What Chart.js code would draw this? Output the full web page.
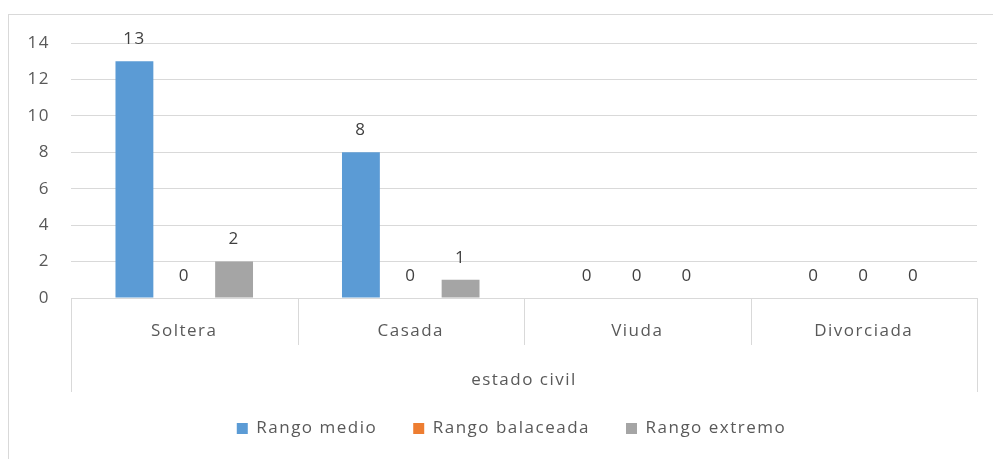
<html>
<head>
  <title>estado civil</title>
  <script src="https://cdn.jsdelivr.net/npm/chart.js@4/dist/chart.umd.min.js"></script>
  <style>
    html, body { margin: 0; padding: 0; background: #fff; overflow: hidden; }
    #wrap { position: relative; width: 993px; height: 459px; }
  </style>
</head>
<body>
  <div id="wrap"><canvas id="graph-canvas"></canvas></div>
  <script>
    // datos
    const categorias = ['Soltera', 'Casada', 'Viuda', 'Divorciada'];
    const tituloEje = 'estado civil';
    const rangoMedio = [13, 8, 0, 0];
    const rangoBalaceada = [0, 0, 0, 0];
    const rangoExtremo = [2, 1, 0, 0];
    const yMax = 14;
    const yPaso = 2;

    const gris = '#D9D9D9';
    const texto = '#595959';
    const fuente = "'Open Sans', sans-serif";

    // espaciado de letras parecido al original
    const espaciado = {
      id: 'espaciado',
      beforeUpdate(chart) { chart.ctx.letterSpacing = '1.5px'; },
      beforeDraw(chart) { chart.ctx.letterSpacing = '1.5px'; }
    };

    // la leyenda del original esta un poco a la derecha
    const moverLeyenda = {
      id: 'moverLeyenda',
      afterLayout(chart) {
        chart.legend.left += 23;
        chart.legend.right += 23;
      }
    };

    // borde exterior (solo se ve arriba e izquierda)
    const borde = {
      id: 'borde',
      beforeDraw(chart) {
        const ctx = chart.ctx;
        ctx.save();
        ctx.strokeStyle = gris;
        ctx.lineWidth = 1;
        ctx.strokeRect(8.5, 14.5, 2000, 2000);
        ctx.restore();
      }
    };

    // separadores de categoria del eje multinivel
    const separadores = {
      id: 'separadores',
      afterDraw(chart) {
        const x = chart.scales.x;
        const ctx = chart.ctx;
        const n = categorias.length;
        const ancho = (x.right - x.left) / n;
        ctx.save();
        ctx.strokeStyle = gris;
        ctx.lineWidth = 1;
        for (let i = 0; i <= n; i++) {
          const px = Math.round(x.left + i * ancho) + 0.5;
          const fin = (i === 0 || i === n) ? x.top + 94 : x.top + 47;
          ctx.beginPath();
          ctx.moveTo(px, x.top);
          ctx.lineTo(px, fin);
          ctx.stroke();
        }
        ctx.restore();
      }
    };

    // etiquetas de datos encima de las barras
    const etiquetas = {
      id: 'etiquetas',
      afterDatasetsDraw(chart) {
        const ctx = chart.ctx;
        ctx.save();
        ctx.font = '17px ' + fuente;
        ctx.fillStyle = '#404040';
        ctx.textAlign = 'center';
        ctx.textBaseline = 'middle';
        chart.data.datasets.forEach((ds, i) => {
          chart.getDatasetMeta(i).data.forEach((bar, j) => {
            ctx.fillText(String(ds.data[j]), bar.x, bar.y - 22);
          });
        });
        ctx.restore();
      }
    };

    const ctx = document.getElementById('graph-canvas');
    const grafico = new Chart(ctx, {
      type: 'bar',
      data: {
        labels: categorias,
        datasets: [
          { label: 'Rango medio', data: rangoMedio, backgroundColor: '#5B9BD5' },
          { label: 'Rango balaceada', data: rangoBalaceada, backgroundColor: '#ED7D31' },
          { label: 'Rango extremo', data: rangoExtremo, backgroundColor: '#A5A5A5' }
        ]
      },
      options: {
        responsive: true,
        maintainAspectRatio: false,
        animation: false,
        devicePixelRatio: 1,
        layout: { padding: { top: 43, right: 16, left: 0, bottom: 12 } },
        datasets: { bar: { categoryPercentage: 0.66, barPercentage: 0.76 } },
        scales: {
          x: {
            grid: { display: false },
            border: { display: false },
            ticks: { color: texto, font: { family: fuente, size: 17 }, padding: 15 },
            title: { display: true, text: tituloEje, color: texto, font: { family: fuente, size: 17 }, padding: { top: 0, bottom: -6 } },
            afterFit(scale) { scale.height = 86; }
          },
          y: {
            min: 0,
            max: yMax,
            ticks: { stepSize: yPaso, color: texto, font: { family: fuente, size: 17 }, padding: 21 },
            grid: { color: gris, drawTicks: false },
            border: { display: false },
            afterFit(scale) { scale.width = 71; }
          }
        },
        plugins: {
          tooltip: { enabled: false },
          legend: {
            position: 'bottom',
            labels: {
              color: texto,
              font: { family: fuente, size: 17 },
              boxWidth: 11,
              boxHeight: 11,
              padding: 36
            }
          }
        }
      },
      plugins: [espaciado, moverLeyenda, borde, separadores, etiquetas]
    });
  </script>
</body>
</html>
